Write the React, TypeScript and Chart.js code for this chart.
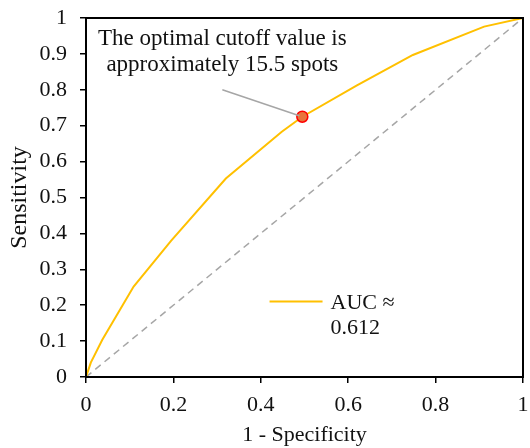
import React, { useEffect, useRef } from "react";
import { Chart, registerables } from "chart.js";

Chart.register(...registerables);

// ROC curve (1 - Specificity, Sensitivity)
const rocFpr = [0, 0.011, 0.037, 0.109, 0.195, 0.32, 0.448, 0.495, 0.62, 0.748, 0.911, 1];
const rocTpr = [0, 0.04, 0.103, 0.252, 0.38, 0.553, 0.683, 0.725, 0.812, 0.897, 0.976, 1];
const diagX = [0, 1];
const diagY = [0, 1];
const optimalX = [0.495];
const optimalY = [0.725];
const xTickLabels = ["0", "0.2", "0.4", "0.6", "0.8", "1"];
const yTickLabels = ["0", "0.1", "0.2", "0.3", "0.4", "0.5", "0.6", "0.7", "0.8", "0.9", "1"];
const annotationLines = ["The optimal cutoff value is", "approximately 15.5 spots"];
const legendLines = ["AUC \u2248", "0.612"];
const xTitle = "1 - Specificity";
const yTitle = "Sensitivity";

const FONT = "'Liberation Serif', 'Times New Roman', serif";
const CURVE = "#FFC000";
const TEXT = "#111";

const overlayPlugin = {
  id: "overlay",
  afterDatasetsDraw(chart: any) {
    const { ctx, chartArea, scales } = chart;
    const xs = scales.x;
    const ys = scales.y;
    ctx.save();
    // frame
    ctx.strokeStyle = "#000";
    ctx.lineWidth = 2;
    ctx.strokeRect(chartArea.left, chartArea.top, chartArea.right - chartArea.left, chartArea.bottom - chartArea.top);

    // annotation leader line
    const px = xs.getPixelForValue(optimalX[0]);
    const py = ys.getPixelForValue(optimalY[0]);
    ctx.strokeStyle = "#A6A6A6";
    ctx.lineWidth = 1.5;
    ctx.beginPath();
    ctx.moveTo(xs.getPixelForValue(0.312), ys.getPixelForValue(0.8));
    ctx.lineTo(px - 3, py - 1);
    ctx.stroke();

    // annotation text
    ctx.fillStyle = TEXT;
    ctx.font = `23px ${FONT}`;
    ctx.textAlign = "center";
    ctx.textBaseline = "alphabetic";
    const ax = xs.getPixelForValue(0.312);
    ctx.fillText(annotationLines[0], ax, 45);
    ctx.fillText(annotationLines[1], ax, 71);

    // legend
    const lx = xs.getPixelForValue(0.42);
    const ly = ys.getPixelForValue(0.21);
    ctx.strokeStyle = CURVE;
    ctx.lineWidth = 2;
    ctx.beginPath();
    ctx.moveTo(lx, ly);
    ctx.lineTo(lx + 53, ly);
    ctx.stroke();
    ctx.font = `22px ${FONT}`;
    ctx.textAlign = "left";
    ctx.fillText(legendLines[0], lx + 61, ly + 7);
    ctx.fillText(legendLines[1], lx + 61, ly + 32);
    ctx.restore();
  },
};

export default function App() {
  const ref = useRef<HTMLCanvasElement | null>(null);
  useEffect(() => {
    if (!ref.current) return;
    const tickFont = { family: FONT, size: 22 };
    const chart = new Chart(ref.current, {
      type: "scatter",
      data: {
        datasets: [
          {
            label: "optimal",
            data: optimalX.map((x, i) => ({ x, y: optimalY[i] })),
            pointRadius: 5.5,
            pointBackgroundColor: "#E8743B",
            pointBorderColor: "#FF0000",
            pointBorderWidth: 1.5,
            showLine: false,
            order: 0,
          },
          {
            label: "ROC",
            data: rocFpr.map((x, i) => ({ x, y: rocTpr[i] })),
            borderColor: CURVE,
            borderWidth: 2,
            pointRadius: 0,
            showLine: true,
            tension: 0,
            order: 1,
          },
          {
            label: "diag",
            data: diagX.map((x, i) => ({ x, y: diagY[i] })),
            borderColor: "#A6A6A6",
            borderWidth: 1.5,
            borderDash: [7, 5],
            pointRadius: 0,
            showLine: true,
            order: 2,
          },
        ],
      },
      options: {
        animation: false,
        responsive: false,
        layout: { padding: { top: 18, right: 4, left: 0, bottom: 0 } },
        plugins: { legend: { display: false }, tooltip: { enabled: false } },
        scales: {
          x: {
            type: "linear",
            min: 0,
            max: 1,
            afterBuildTicks: (s: any) => {
              s.ticks = xTickLabels.map((_, i) => ({ value: i * 0.2 }));
            },
            afterFit: (s: any) => {
              s.height = 71;
              s.paddingLeft = 0;
              s.paddingRight = 0;
            },
            grid: { drawOnChartArea: false, drawTicks: true, tickLength: 6, color: "#000", lineWidth: 1.5 },
            border: { display: false },
            ticks: {
              color: TEXT,
              font: tickFont,
              padding: 9,
              maxRotation: 0,
              autoSkip: false,
              callback: (_v: any, i: number) => xTickLabels[i],
            },
            title: { display: true, text: xTitle, color: TEXT, font: tickFont, padding: { top: 1.5, bottom: 0 } },
          },
          y: {
            type: "linear",
            min: 0,
            max: 1,
            afterBuildTicks: (s: any) => {
              s.ticks = yTickLabels.map((_, i) => ({ value: i * 0.1 }));
            },
            afterFit: (s: any) => {
              s.width = 86;
              s.paddingTop = 0;
              s.paddingBottom = 0;
            },
            grid: { drawOnChartArea: false, drawTicks: true, tickLength: 6, color: "#000", lineWidth: 1.5 },
            border: { display: false },
            ticks: {
              color: TEXT,
              font: tickFont,
              padding: 13,
              autoSkip: false,
              callback: (_v: any, i: number) => yTickLabels[i],
            },
            title: { display: true, text: yTitle, color: TEXT, font: { family: FONT, size: 24 }, padding: { top: 5, bottom: 0 } },
          },
        },
      },
      plugins: [overlayPlugin],
    } as any);
    return () => chart.destroy();
  }, []);
  return (
    <div style={{ position: "fixed", left: 0, top: 0, width: 530, height: 448, background: "#fff" }}>
      <canvas ref={ref} width={530} height={448} style={{ display: "block", width: 530, height: 448 }} />
    </div>
  );
}
